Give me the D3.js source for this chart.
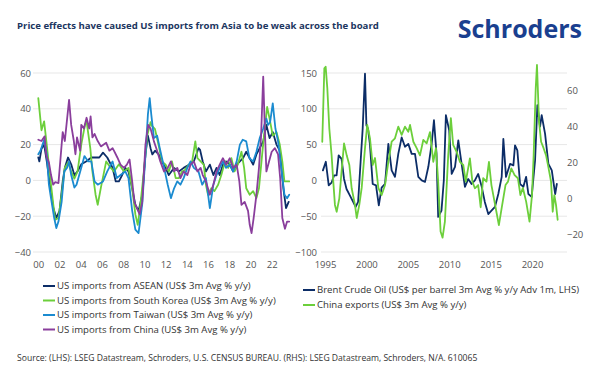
<!DOCTYPE html>
<html><head><meta charset="utf-8">
<script src="https://cdn.jsdelivr.net/npm/d3@7"></script>
<style>body{margin:0;background:#fff}svg{display:block}text{font-family:'Open Sans',sans-serif}</style>
</head><body><svg id="c" width="600" height="383"></svg>
<script>
// ---------- Left panel data (US imports, % y/y) ----------
const aseanYears = [2000.0,2000.1,2000.3,2000.55,2000.8,2001.1,2001.4,2001.7,2002.0,2002.3,2002.5,2002.8,2003.1,2003.4,2003.7,2004.05,2004.5,2005.0,2005.45,2005.75,2006.1,2006.5,2007.0,2007.3,2007.6,2007.9,2008.2,2008.5,2008.85,2009.15,2009.45,2009.8,2010.1,2010.33,2010.58,2010.75,2011.0,2011.35,2011.65,2012.0,2012.3,2012.8,2013.25,2013.7,2014.2,2014.66,2015.1,2015.25,2015.5,2015.8,2016.17,2016.5,2016.8,2017.1,2017.4,2017.7,2018.05,2018.36,2018.7,2019.0,2019.3,2019.6,2019.93,2020.25,2020.56,2020.87,2021.2,2021.5,2021.8,2022.1,2022.45,2022.76,2023.1,2023.35,2023.6];
const aseanVals = [12.8,10.6,17.6,20,10.6,-2.4,-15,-21,-17,-0.6,7,12.8,9,3,5,9,10.6,12.8,12.8,12.8,15.5,12.8,7,-0.6,-0.6,3,7,5,-4.4,-13.7,-17,-8,14.5,25,18,14.5,16.6,14.5,10.6,7,3,7,5,7,8.8,10.6,18,17,10.6,5,8.8,3,7,3,8.8,10.6,8.8,5,8.8,10.6,12.4,16,12.4,8.8,14.5,18,21.8,31,23.6,27,20,16.6,-4.4,-15.5,-12];

const koreaYears = [2000.0,2000.3,2000.55,2000.76,2001.1,2001.4,2001.6,2001.9,2002.2,2002.5,2002.8,2003.1,2003.4,2003.7,2004.05,2004.4,2004.55,2004.9,2005.1,2005.4,2005.6,2005.9,2006.4,2006.7,2007.13,2007.6,2008.07,2008.5,2008.85,2009.15,2009.37,2009.6,2009.95,2010.27,2010.58,2010.7,2011.0,2011.35,2011.65,2012.0,2012.3,2012.6,2012.95,2013.25,2013.55,2013.85,2014.2,2014.5,2014.8,2015.0,2015.3,2015.6,2015.8,2016.0,2016.3,2016.6,2016.95,2017.25,2017.6,2017.9,2018.2,2018.5,2018.8,2019.15,2019.4,2019.6,2019.93,2020.25,2020.56,2020.8,2021.1,2021.35,2021.57,2021.8,2022.1,2022.45,2022.76,2023.0,2023.2,2023.65];
const koreaVals = [46,28,33,21.8,3,-13,-22,-21,-8,7,10,5,1,5,20,31,33,18,5,-8,-13.6,-4,10.6,8,5,9,5,7,-4.4,-19,-24.8,-15,5,25,32.5,30.6,28.6,19.5,10.6,8.8,5,10.6,1.3,1.3,5,6,8.8,10.6,21.8,12.4,10.6,8.8,-2.4,-8,-4.4,-6,-2.4,3,10.6,7,12.4,5,8.8,16,7,-4.4,-8,-6,-9.9,-4.4,14.5,29,41,34.5,25,27,20,10.6,-0.6,-0.6];

const taiwanYears = [2000.0,2000.2,2000.55,2000.8,2001.0,2001.2,2001.5,2001.7,2001.9,2002.2,2002.45,2002.7,2002.9,2003.1,2003.4,2003.6,2004.05,2004.35,2004.7,2005.0,2005.3,2005.6,2006.1,2006.5,2007.0,2007.4,2007.75,2008.2,2008.5,2008.85,2009.15,2009.45,2009.8,2010.1,2010.33,2010.5,2010.65,2010.9,2011.2,2011.45,2011.8,2012.2,2012.5,2012.8,2013.1,2013.4,2013.7,2014.05,2014.35,2014.66,2015.1,2015.45,2015.8,2016.17,2016.5,2016.8,2017.1,2017.4,2017.7,2018.05,2018.36,2018.7,2019.0,2019.27,2019.6,2019.9,2020.25,2020.56,2020.87,2021.2,2021.5,2021.65,2021.85,2022.1,2022.35,2022.6,2022.9,2023.2,2023.45,2023.65];
const taiwanVals = [14.6,16.6,22.7,14.6,-2.4,-10,-21,-26.6,-23,-12,5,7,10.6,3,-4,-2.4,7,13.6,10.6,10.6,-0.6,-2.4,-0.6,5,10.6,1.3,3,5,1.3,-17,-27.5,-29.4,-13,14,36.7,46,36.7,23.6,25,18,8.8,-2.4,-9.9,-4.4,-0.6,-2.4,1.3,7,10.6,7,5,-2.4,1.3,-15.5,-2.4,3,7,10.6,7,8.8,5,10.6,20,22.7,21.8,12.4,10.6,16,23.6,29,34.5,31,32.5,43,29,21.8,7,-8,-10,-8];

const chinaYears = [2000.0,2000.3,2000.6,2000.75,2001.0,2001.2,2001.4,2001.6,2001.9,2002.2,2002.3,2002.5,2002.9,2003.1,2003.35,2003.5,2003.65,2003.95,2004.05,2004.3,2004.55,2004.8,2004.93,2005.1,2005.3,2005.6,2005.9,2006.4,2006.7,2007.0,2007.13,2007.45,2007.75,2008.07,2008.35,2008.6,2008.85,2009.05,2009.3,2009.55,2009.8,2010.1,2010.36,2010.58,2010.9,2011.2,2011.5,2011.85,2012.2,2012.5,2012.8,2013.1,2013.4,2013.7,2014.05,2014.35,2014.66,2015.0,2015.3,2015.5,2015.8,2016.17,2016.5,2016.8,2017.1,2017.4,2017.7,2018.05,2018.36,2018.7,2018.95,2019.15,2019.45,2019.77,2019.93,2020.1,2020.3,2020.56,2020.8,2021.0,2021.2,2021.35,2021.5,2021.75,2022.0,2022.3,2022.6,2022.8,2023.0,2023.25,2023.45,2023.65];
const chinaVals = [22.7,22,24.6,14,10,3,-2.4,-1,-1.5,20,27,22,45,31,22,14.6,24,16.6,31,29,35,29,35.8,24,26,22,19,21,16.6,18,16.6,12.8,8.8,7,8.8,11.7,-0.6,-12,-15.5,-19,-12,20,31,29,21.8,16.6,10.6,5,7,10.6,5,7,1.3,5,3,8.8,10.6,5,7,3,-0.6,-8,-2.4,5,8.8,12.4,8.8,12.4,7,8.8,-0.6,-13.7,-12,-17,-24.8,-29.4,-21,-8,7,25,58,29,5,10.6,16,18,14.5,1.3,-21,-27,-23,-23];

// ---------- Right panel data ----------
const brentYears = [1994.75,1995.1,1995.45,1995.8,1996.1,1996.4,1996.65,1997.0,1997.3,1997.6,1998.0,1998.4,1998.7,1999.0,1999.3,1999.55,1999.83,2000.0,2000.2,2000.43,2000.76,2001.16,2001.5,2001.84,2002.25,2002.65,2003.05,2003.45,2003.85,2004.26,2004.66,2005.06,2005.47,2005.87,2006.27,2006.68,2007.08,2007.48,2007.88,2008.16,2008.47,2008.67,2009.07,2009.35,2009.6,2010.0,2010.3,2010.7,2011.1,2011.5,2011.9,2012.3,2012.7,2013.1,2013.5,2013.93,2014.3,2014.72,2015.13,2015.53,2015.93,2016.34,2016.54,2016.86,2017.35,2017.75,2017.95,2018.23,2018.56,2018.96,2019.29,2019.56,2019.96,2020.37,2020.65,2020.97,2021.17,2021.58,2021.98,2022.39,2022.8,2023.0];
const brentVals = [14,26,-7,-3,7,7,35,30,2,-12,-21,-30,-37,-30,26,72,149,77,72,50,-5,-7,-35,-10,-5,51,14,5,37,60,47,51,37,37,5,0,-2,19,51,84,37,-51,-42,0,91,70,9,19,56,23,-9,2,-5,0,9,-9,-30,-47,-42,-37,-19,5,58,5,23,21,49,42,-5,-9,5,-19,-23,28,105,75,91,65,23,14,-19,-5];

const exportsYears = [1994.67,1994.92,1995.08,1995.28,1995.52,1995.8,1996.0,1996.2,1996.41,1996.73,1997.0,1997.3,1997.62,1997.94,1998.22,1998.62,1998.83,1999.14,1999.43,1999.83,2000.1,2000.43,2000.76,2001.04,2001.44,2001.84,2002.25,2002.65,2003.05,2003.45,2003.85,2004.26,2004.66,2005.06,2005.27,2005.67,2006.07,2006.47,2006.87,2007.28,2007.68,2008.08,2008.4,2008.67,2008.96,2009.2,2009.48,2009.88,2010.2,2010.48,2010.89,2011.29,2011.7,2012.0,2012.5,2012.8,2013.1,2013.5,2013.8,2014.1,2014.5,2014.8,2015.1,2015.4,2015.7,2016.0,2016.4,2016.8,2017.1,2017.5,2017.9,2018.3,2018.6,2018.9,2019.3,2019.7,2020.0,2020.2,2020.45,2020.6,2020.85,2021.1,2021.4,2021.7,2022.0,2022.3,2022.5,2022.7,2022.9,2023.1];
const exportsVals = [31.6,72.6,73.5,61.4,39,24,9.3,-3.7,-7.5,0,15,30.7,24,18.6,5.6,-3.7,-11,-3.7,5.8,28,41,33.6,18.6,22.5,5.8,1.8,7.4,20.4,31.6,33.5,40,35.4,40,37.2,41,31.6,28,24,32.6,30.7,37,20.4,28,9.3,-18.6,-22,-13,24,44.8,29.8,26,20.4,18.6,9.3,22.3,9.3,5.6,7.4,-5,11.2,9.3,20.4,7.4,0,-7.5,-15,-3.7,7.4,9.3,16.7,13,11.2,1.8,5.8,-2,-13,1.8,24,61.5,74.5,42.8,31.6,28,24,16.9,9.3,-7.5,1.8,-3.7,-12];

// ---------- ticks & labels ----------
const leftYTicks = [-40,-20,0,20,40,60];
const leftXTicks = [2000,2002,2004,2006,2008,2010,2012,2014,2016,2018,2020,2022];
const rightYTicksL = [-100,-50,0,50,100,150];
const rightYTicksR = [-20,0,20,40,60];
const rightXTicks = [1995,2000,2005,2010,2015,2020];

const titleText = "Price effects have caused US imports from Asia to be weak across the board";
const sourceText = "Source: (LHS): LSEG Datastream, Schroders, U.S. CENSUS BUREAU. (RHS): LSEG Datastream, Schroders, N/A. 610065";
const leftLegend = ["US imports from ASEAN (US$ 3m Avg % y/y)","US imports from South Korea (US$ 3m Avg % y/y)","US imports from Taiwan (US$ 3m Avg % y/y)","US imports from China (US$ 3m Avg % y/y)"];
const rightLegend = ["Brent Crude Oil (US$ per barrel 3m Avg % y/y Adv 1m, LHS)","China exports (US$ 3m Avg % y/y)"];

// ---------- styles ----------
const C = {navy:"#0c2d67", green:"#6ccf3b", blue:"#1b8bd0", purple:"#8a3e9c", grid:"#e7e7e7", axis:"#555", text:"#333"};

const svg = d3.select("#c");
const zip = (xs, ys) => d3.range(Math.min(xs.length, ys.length)).map(i => [xs[i], ys[i]]);

// scales
const xL = d3.scaleLinear().domain([2000, 2022]).range([38.3, 271.7]);
const yL = d3.scaleLinear().domain([-40, 60]).range([252, 73]);
const xR = d3.scaleLinear().domain([1995, 2020]).range([325, 532]);
const yR1 = d3.scaleLinear().domain([-100, 150]).range([252, 73]);
const yR2 = d3.scaleLinear().domain([-30, 70]).range([252, 73]);

// title + logo
svg.append("text").attr("x", 17).attr("y", 29).attr("font-size", 9.6).attr("font-weight", 700)
  .attr("fill", "#1c365f").text(titleText);
svg.append("text").attr("x", 582).attr("y", 38).attr("text-anchor", "end").attr("font-size", 25)
  .attr("font-weight", 700).attr("letter-spacing", 0).attr("fill", "#1a3f8f").text("Schroders");

// gridlines
function grid(y, ticks, x0, x1) {
  svg.append("g").selectAll("line").data(ticks).join("line")
    .attr("x1", x0).attr("x2", x1).attr("y1", d => y(d)).attr("y2", d => y(d))
    .attr("stroke", C.grid).attr("stroke-width", 1);
}
grid(yL, leftYTicks, 33, 290);
grid(yR1, rightYTicksL, 321, 567);

// axes
function styleAxis(g) {
  g.select(".domain").remove();
  g.selectAll(".tick line").remove();
  g.selectAll("text").attr("font-size", 9.5).attr("fill", C.axis).attr("font-family", "'Open Sans',sans-serif");
}
svg.append("g").attr("transform", "translate(33,0)")
  .call(d3.axisLeft(yL).tickValues(leftYTicks).tickSize(0).tickPadding(2)).call(styleAxis);
svg.append("g").attr("transform", "translate(0,258)")
  .call(d3.axisBottom(xL).tickValues(leftXTicks).tickSize(0).tickPadding(3)
    .tickFormat(d => String(d % 100).padStart(2, "0"))).call(styleAxis);
svg.append("g").attr("transform", "translate(319,0)")
  .call(d3.axisLeft(yR1).tickValues(rightYTicksL).tickSize(0).tickPadding(2)).call(styleAxis);
svg.append("g").attr("transform", "translate(566,0)")
  .call(d3.axisRight(yR2).tickValues(rightYTicksR).tickSize(0).tickPadding(1)).call(styleAxis);
svg.append("g").attr("transform", "translate(0,258)")
  .call(d3.axisBottom(xR).tickValues(rightXTicks).tickSize(0).tickPadding(3).tickFormat(d3.format("d"))).call(styleAxis);

// lines
function drawLine(data, x, y, color) {
  svg.append("path").datum(data)
    .attr("fill", "none").attr("stroke", color).attr("stroke-width", 1.8)
    .attr("stroke-linejoin", "round").attr("stroke-linecap", "round")
    .attr("d", d3.line().x(d => x(d[0])).y(d => y(d[1])));
}
drawLine(zip(aseanYears, aseanVals), xL, yL, C.navy);
drawLine(zip(koreaYears, koreaVals), xL, yL, C.green);
drawLine(zip(taiwanYears, taiwanVals), xL, yL, C.blue);
drawLine(zip(chinaYears, chinaVals), xL, yL, C.purple);
drawLine(zip(brentYears, brentVals), xR, yR1, C.navy);
drawLine(zip(exportsYears, exportsVals), xR, yR2, C.green);

// legends
function legend(items, colors, x, y0, step) {
  const g = svg.append("g");
  items.forEach((t, i) => {
    const y = y0 + i * step;
    g.append("line").attr("x1", x).attr("x2", x + 12).attr("y1", y).attr("y2", y)
      .attr("stroke", colors[i]).attr("stroke-width", 2);
    g.append("text").attr("x", x + 14).attr("y", y).attr("dy", "0.35em")
      .attr("font-size", 9.6).attr("fill", C.text).text(t);
  });
}
legend(leftLegend, [C.navy, C.green, C.blue, C.purple], 43, 286, 14.5);
legend(rightLegend, [C.navy, C.green], 303, 290, 15);

svg.append("text").attr("x", 17).attr("y", 361).attr("font-size", 8.6).attr("fill", C.text).text(sourceText);
</script></body></html>
